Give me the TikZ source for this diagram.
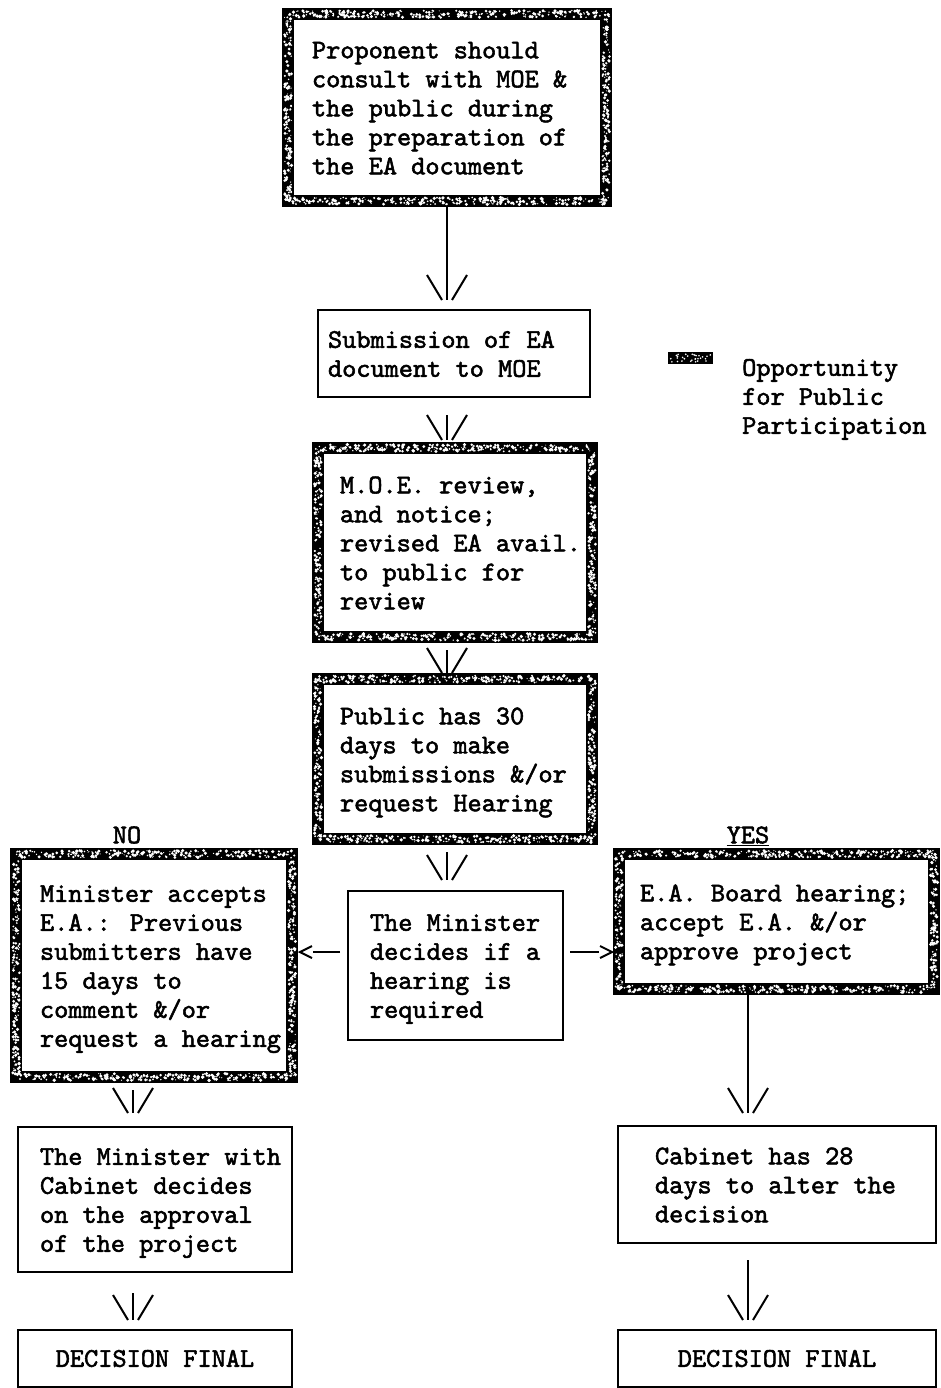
\documentclass[tikz,border=0pt]{standalone}
\usepackage{fontspec}
\newfontfamily\tw{lmmono10-regular.otf}[FakeBold=2]
\usetikzlibrary{arrows.meta,calc}

\pgfdeclarearrow{
  name=VV,
  parameters={\the\pgflinewidth},
  setup code={
    \pgfarrowssettipend{0pt}
    \pgfarrowssetlineend{0pt}
    \pgfarrowssetbackend{-25pt}
    \pgfarrowssetvisualbackend{-25pt}
    \pgfarrowshullpoint{0pt}{20pt}
    \pgfarrowshullpoint{0pt}{-20pt}
    \pgfarrowshullpoint{-25pt}{20pt}
    \pgfarrowshullpoint{-25pt}{-20pt}
  },
  drawing code={
    \pgfpathmoveto{\pgfqpoint{0pt}{5pt}}
    \pgfpathlineto{\pgfqpoint{-25pt}{20pt}}
    \pgfpathmoveto{\pgfqpoint{0pt}{-5pt}}
    \pgfpathlineto{\pgfqpoint{-25pt}{-20pt}}
    \pgfusepathqstroke
  }
}
\pgfdeclarearrow{
  name=Chev,
  parameters={\the\pgflinewidth},
  setup code={
    \pgfarrowssettipend{0pt}
    \pgfarrowssetlineend{-13pt}
    \pgfarrowssetbackend{-13pt}
    \pgfarrowssetvisualbackend{-12pt}
    \pgfarrowshullpoint{0pt}{0pt}
    \pgfarrowshullpoint{-12pt}{6pt}
    \pgfarrowshullpoint{-12pt}{-6pt}
  },
  drawing code={
    \pgfpathmoveto{\pgfqpoint{-12pt}{6pt}}
    \pgfpathlineto{\pgfqpoint{0pt}{0pt}}
    \pgfpathlineto{\pgfqpoint{-12pt}{-6pt}}
    \pgfusepathqstroke
  }
}

\newcommand\boxlines[2]{\raisebox{-3pt}[\height][\depth]{\makebox[#1][l]{\begin{tabular}{@{}l@{}}#2\end{tabular}}}}

% white specks along the band of a heavy frame (path coordinates)
\newcommand\speckle[4]{%
  \pgfmathtruncatemacro\nh{(#3-#1)/1.1}%
  \pgfmathtruncatemacro\nv{(#4-#2)/1.1}%
  \foreach \k in {1,...,\nh}{%
    \pgfmathsetmacro\px{#1+rnd*(#3-#1)}%
    \pgfmathsetmacro\py{#2+(rnd-0.5)*7}%
    \pgfmathsetmacro\pr{0.5+rnd*1.3}%
    \fill[white] (\px,\py) circle[radius=\pr pt];
    \pgfmathsetmacro\px{#1+rnd*(#3-#1)}%
    \pgfmathsetmacro\py{#4+(rnd-0.5)*7}%
    \pgfmathsetmacro\pr{0.5+rnd*1.3}%
    \fill[white] (\px,\py) circle[radius=\pr pt];
  }%
  \foreach \k in {1,...,\nv}{%
    \pgfmathsetmacro\py{#2+rnd*(#4-#2)}%
    \pgfmathsetmacro\px{#1+(rnd-0.5)*7}%
    \pgfmathsetmacro\pr{0.5+rnd*1.3}%
    \fill[white] (\px,\py) circle[radius=\pr pt];
    \pgfmathsetmacro\py{#2+rnd*(#4-#2)}%
    \pgfmathsetmacro\px{#3+(rnd-0.5)*7}%
    \pgfmathsetmacro\pr{0.5+rnd*1.3}%
    \fill[white] (\px,\py) circle[radius=\pr pt];
  }%
}

\begin{document}
\begin{tikzpicture}[x=1pt,y=-1pt,
  every node/.style={font=\tw\fontsize{27}{29}\selectfont, text=black},
  heavybox/.style={draw=black, line width=12pt, fill=white, inner sep=0pt, outer sep=0pt},
  plainbox/.style={draw=black, line width=2pt, fill=white, inner sep=0pt, outer sep=0pt},
  downarrow/.style={draw=black, line width=2pt, -{VV}},
  sidearrow/.style={draw=black, line width=2pt, -{Chev}},
  lbl/.style={inner sep=0pt}]
\pgfmathsetseed{4242}
\fill[white] (0,0) rectangle (940,1388);
\useasboundingbox (0,0) rectangle (940,1388);

\coordinate (cx) at (447,0);
\coordinate (lx) at (133,0);
\coordinate (rx) at (748,0);
\coordinate (hy) at (0,952);

% boxes
\node[heavybox, minimum width=318pt, minimum height=187pt] (b1) at (447,107.5)
  {\boxlines{270pt}{Proponent should\\consult with MOE \&\\the public during\\the preparation of\\the EA document}};
\node[plainbox, minimum width=272pt, minimum height=87pt] (b2) at (454,353.5)
  {\boxlines{252pt}{Submission of EA\\document to MOE}};
\node[heavybox, minimum width=274pt, minimum height=189pt] (b3) at (455,542.5)
  {\boxlines{230pt}{M.O.E. review,\\and notice;\\revised EA avail.\\to public for\\review}};
\node[heavybox, minimum width=274pt, minimum height=160pt] (b4) at (455,759)
  {\boxlines{230pt}{Public has 30\\days to make\\submissions \&/or\\request Hearing}};
\node[plainbox, minimum width=215pt, minimum height=149pt] (b5) at (455.5,965.5)
  {\boxlines{171pt}{The Minister\\decides if a\\hearing is\\required}};
\node[heavybox, minimum width=276pt, minimum height=223pt] (b6) at (154,965.5)
  {\boxlines{228pt}{Minister accepts\\E.A.: Previous\\submitters have\\15 days to\\comment \&/or\\request a hearing}};
\node[heavybox, minimum width=315pt, minimum height=135pt] (b7) at (776.5,921.5)
  {\boxlines{273pt}{E.A. Board hearing;\\accept E.A. \&/or\\approve project}};
\node[plainbox, minimum width=274pt, minimum height=145pt] (b8) at (155,1199.5)
  {\boxlines{230pt}{The Minister with\\Cabinet decides\\on the approval\\of the project}};
\node[plainbox, minimum width=318pt, minimum height=117pt] (b9) at (777,1184.5)
  {\boxlines{244pt}{Cabinet has 28\\days to alter the\\decision}};
\node[plainbox, minimum width=274pt, minimum height=57pt] (b10) at (155,1358.5) {DECISION FINAL};
\node[plainbox, minimum width=318pt, minimum height=57pt] (b11) at (777,1358.5) {DECISION FINAL};

% speckled frames
\speckle{288}{14}{606}{201}
\speckle{318}{448}{592}{637}
\speckle{318}{679}{592}{839}
\speckle{16}{854}{292}{1077}
\speckle{619}{854}{934}{989}

% labels
\node[lbl] (no) at (127,835) {NO};
\node[lbl] (yes) at (748,836) {\underline{YES}};

% legend
\node[fill=black, minimum width=45pt, minimum height=12pt, inner sep=0pt] (swatch) at (690.5,358) {};
\foreach \k in {1,...,30}{%
  \pgfmathsetmacro\px{670+rnd*41}%
  \pgfmathsetmacro\py{354+rnd*8}%
  \fill[white] (\px,\py) circle[radius=0.9pt];
}
\node[lbl, anchor=west] (legend) at (742,399)
  {\begin{tabular}{@{}l@{}}Opportunity\\for Public\\Participation\end{tabular}};

% connectors
\coordinate (b6r) at ($(b6.east |- hy)+(8,0)$);
\draw[downarrow, shorten <=6pt, shorten >=10pt] (b1.south -| cx) -- (b2.north -| cx);
\draw[downarrow, shorten <=18pt, shorten >=8pt] (b2.south -| cx) -- (b3.north -| cx);
\draw[downarrow, shorten <=13pt, shorten >=6pt] (b3.south -| cx) -- (b4.north -| cx);
\draw[downarrow, shorten <=13pt, shorten >=11pt] (b4.south -| cx) -- (b5.north -| cx);
\draw[downarrow, shorten <=13pt, shorten >=14pt] (b6.south -| lx) -- (b8.north -| lx);
\draw[downarrow, shorten <=6pt, shorten >=13pt] (b7.south -| rx) -- (b9.north -| rx);
\draw[downarrow, shorten <=21pt, shorten >=10pt] (b8.south -| lx) -- (b10.north -| lx);
\draw[downarrow, shorten <=17pt, shorten >=10pt] (b9.south -| rx) -- (b11.north -| rx);
\draw[sidearrow, shorten <=8pt] (b5.west |- hy) -- (b6r);
\draw[sidearrow, shorten <=7pt, shorten >=7pt] (b5.east |- hy) -- (b7.west |- hy);
\end{tikzpicture}
\end{document}
